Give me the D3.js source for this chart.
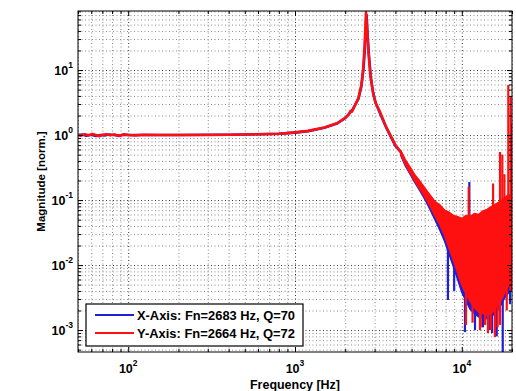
<!DOCTYPE html>
<html>
<head>
<meta charset="utf-8">
<script src="https://cdn.jsdelivr.net/npm/d3@7/dist/d3.min.js"></script>
<style>
  body { margin: 0; background: #fff; }
  svg { display: block; font-family: "Liberation Sans", Arial, sans-serif; font-weight: bold; }
  .grid line { stroke-dasharray: 1,2.5; }
  .grid path { display: none; }
  .ticks path { display: none; }
  .ticks line { stroke: #000; }
</style>
</head>
<body>
<div id="chart"></div>
<script>
// axis ranges and tick decades
const xDomain = [50, 20000];
const yDomain = [4.6e-4, 81];
const xDecades = [2, 3, 4];
const yDecades = [-3, -2, -1, 0, 1];

// X-Axis measurement (blue), smooth part up to ~4.3 kHz
const xFreq = [50, 53, 56, 60, 64, 68, 72, 77, 82, 88, 95, 105, 120, 150, 200, 300, 400, 500, 600, 700,
  800, 900, 1000, 1200, 1500, 1800, 2000, 2200, 2400, 2500, 2580, 2630, 2665, 2683, 2700, 2730, 2780, 2850, 2950, 3050,
  3200, 3500, 4000, 4300];
const xMag = [1.00, 1.02, 0.98, 1.01, 0.97, 1.00, 0.99, 1.02, 1.00, 0.98, 1.01, 1.00, 1.00, 1.00, 1.00, 1.01, 1.01, 1.02, 1.03, 1.04,
  1.05, 1.07, 1.09, 1.15, 1.30, 1.52, 1.82, 2.40, 3.6, 5.6, 11, 24, 52, 70, 55, 32, 16, 7.5, 4.3, 3.1,
  2.3, 1.35, 0.68, 0.55];

// Y-Axis measurement (red), smooth part
const yFreq = [50, 52, 55, 58, 61, 64, 67, 70, 74, 78, 83, 88, 94, 100, 110, 125, 150, 200, 300, 400,
  500, 600, 700, 800, 900, 1000, 1200, 1500, 1800, 2000, 2100, 2150, 2200, 2400, 2500, 2560, 2610, 2645, 2664, 2680,
  2710, 2760, 2830, 2930, 3030, 3200, 3500, 4000, 4300];
const yMag = [1.01, 0.98, 1.03, 0.99, 1.04, 1.00, 0.96, 1.01, 1.03, 0.99, 1.02, 0.97, 1.03, 1.00, 0.99, 1.01, 1.00, 1.00, 1.00, 1.01,
  1.02, 1.03, 1.04, 1.05, 1.07, 1.10, 1.16, 1.31, 1.53, 1.85, 2.05, 2.35, 2.30, 3.7, 5.9, 10, 22, 48, 78, 62,
  38, 18, 8.5, 4.6, 3.2, 2.4, 1.38, 0.70, 0.55];

// noisy high-frequency part, read as upper / lower envelopes
const noiseFreq = [4300, 4600, 4900, 5200, 5600, 6000, 6450, 6900, 7400, 7900, 8400, 8900, 9400, 10000,
  10600, 11200, 11900, 12600, 13400, 14200, 15000, 15800, 16600, 17400, 18200, 19000, 20000];
const blueUpper = [0.57, 0.40, 0.31, 0.24, 0.19, 0.148, 0.115, 0.092, 0.08, 0.068, 0.062, 0.056, 0.054, 0.05,
  0.056, 0.054, 0.06, 0.058, 0.066, 0.07, 0.076, 0.082, 0.088, 0.095, 0.105, 0.11, 0.11];
const blueLower = [0.49, 0.33, 0.25, 0.19, 0.14, 0.103, 0.072, 0.05, 0.034, 0.023, 0.0145, 0.0095, 0.0062, 0.0038,
  0.0028, 0.0021, 0.0018, 0.0016, 0.0015, 0.0015, 0.0016, 0.0018, 0.0021, 0.0026, 0.0032, 0.0037, 0.0042];
const redUpper = [0.58, 0.41, 0.32, 0.25, 0.196, 0.153, 0.12, 0.095, 0.084, 0.070, 0.065, 0.058, 0.056, 0.052,
  0.058, 0.056, 0.062, 0.060, 0.068, 0.072, 0.079, 0.085, 0.092, 0.10, 0.11, 0.12, 0.12];
const redLower = [0.50, 0.345, 0.26, 0.20, 0.148, 0.111, 0.081, 0.057, 0.041, 0.028, 0.018, 0.0119, 0.0078, 0.0049,
  0.0036, 0.0028, 0.0022, 0.0019, 0.0018, 0.0017, 0.0018, 0.0021, 0.0025, 0.003, 0.0039, 0.0048, 0.0055];

// single spikes sticking out of the envelopes
const blueSpikeFreq = [8260, 9000, 10450, 11100, 12000, 13400, 14760, 15200, 16200, 17600, 19450];
const blueSpikeLo = [0.0029, 0.004, 0.00093, 0.004, 0.001, 0.0011, 0.001, 0.0009, 0.0008, 0.00046, 0.0025];
const blueSpikeHi = [0.03, 0.02, 0.004, 0.19, 0.003, 0.003, 0.003, 0.003, 0.003, 0.005, 0.01];
const redSpikeFreq = [10600, 11000, 11600, 12850, 13000, 13800, 14350, 14900, 15400, 15800, 16400, 16950,
  17500, 18000, 18600, 19000, 19600, 19950];
const redSpikeLo = [0.0012, 0.01, 0.0013, 0.001, 0.0011, 0.0012, 0.0009, 0.001, 0.01, 0.00078, 0.0011, 0.0012,
  0.01, 0.01, 0.002, 0.01, 0.004, 0.005];
const redSpikeHi = [0.01, 0.16, 0.01, 0.005, 0.005, 0.005, 0.005, 0.005, 0.18, 0.005, 0.005, 0.55,
  0.5, 0.25, 0.01, 5.9, 4.0, 1.5];

const legendLabels = ["X-Axis: Fn=2683 Hz, Q=70", "Y-Axis: Fn=2664 Hz, Q=72"];

const blue = "#1f1fd8", red = "#ff1010";
const width = 516, height = 391;
const margin = { top: 11, right: 4, bottom: 39, left: 78 };
const innerW = width - margin.left - margin.right;
const innerH = height - margin.top - margin.bottom;

const svg = d3.select("#chart").append("svg")
  .attr("width", width)
  .attr("height", height);

const g = svg.append("g")
  .attr("transform", "translate(" + margin.left + "," + margin.top + ")");

const x = d3.scaleLog().domain(xDomain).range([0, innerW]);
const y = d3.scaleLog().domain(yDomain).range([innerH, 0]);

// major / minor tick values
function minors(lo, hi) {
  const out = [];
  for (let e = Math.floor(Math.log10(lo)); e <= Math.ceil(Math.log10(hi)); e++) {
    for (let m = 2; m < 10; m++) {
      const v = m * Math.pow(10, e);
      if (v >= lo * 0.999 && v <= hi * 1.001) out.push(v);
    }
  }
  return out;
}
const xMajor = xDecades.map(d => Math.pow(10, d));
const yMajor = yDecades.map(d => Math.pow(10, d));
const xMinor = minors(xDomain[0], xDomain[1]);
const yMinor = minors(yDomain[0], yDomain[1]);

// GRID
g.append("g").attr("class", "grid").attr("transform", "translate(0," + innerH + ")")
  .call(d3.axisBottom(x).tickValues(xMinor).tickSize(-innerH).tickFormat(""))
  .selectAll("line").attr("stroke", "#8a8a8a");
g.append("g").attr("class", "grid")
  .call(d3.axisLeft(y).tickValues(yMinor).tickSize(-innerW).tickFormat(""))
  .selectAll("line").attr("stroke", "#8a8a8a");
g.append("g").attr("class", "grid").attr("transform", "translate(0," + innerH + ")")
  .call(d3.axisBottom(x).tickValues(xMajor).tickSize(-innerH).tickFormat(""))
  .selectAll("line").attr("stroke", "#333");
g.append("g").attr("class", "grid")
  .call(d3.axisLeft(y).tickValues(yMajor).tickSize(-innerW).tickFormat(""))
  .selectAll("line").attr("stroke", "#333");

// DATA
g.append("clipPath").attr("id", "plot-clip")
  .append("rect").attr("width", innerW).attr("height", innerH);
const plot = g.append("g").attr("clip-path", "url(#plot-clip)");

const line = d3.line().x(d => x(d[0])).y(d => y(d[1]));
const area = d3.area().x(d => x(d[0])).y0(d => y(d[2])).y1(d => y(d[1]));

function drawSeries(freq, mag, upper, lower, sFreq, sLo, sHi, color) {
  plot.append("path")
    .datum(noiseFreq.map((f, i) => [f, upper[i], lower[i]]))
    .attr("d", area)
    .attr("fill", color)
    .attr("stroke", color)
    .attr("stroke-width", 1.5)
    .attr("stroke-linejoin", "bevel");
  plot.append("path")
    .datum(freq.map((f, i) => [f, mag[i]]))
    .attr("d", line)
    .attr("fill", "none")
    .attr("stroke", color)
    .attr("stroke-width", 2.6)
    .attr("stroke-linejoin", "round");
  plot.selectAll(null)
    .data(sFreq.map((f, i) => [f, sLo[i], sHi[i]]))
    .enter().append("line")
    .attr("x1", d => x(d[0])).attr("x2", d => x(d[0]))
    .attr("y1", d => y(d[1])).attr("y2", d => y(d[2]))
    .attr("stroke", color)
    .attr("stroke-width", 2.2);
}
drawSeries(xFreq, xMag, blueUpper, blueLower, blueSpikeFreq, blueSpikeLo, blueSpikeHi, blue);
drawSeries(yFreq, yMag, redUpper, redLower, redSpikeFreq, redSpikeLo, redSpikeHi, red);

// TICKS (inside, all four sides)
const tickSets = [
  [d3.axisBottom(x), xMajor, 5, "translate(0," + innerH + ")"],
  [d3.axisBottom(x), xMinor, 3, "translate(0," + innerH + ")"],
  [d3.axisTop(x), xMajor, 5, null],
  [d3.axisTop(x), xMinor, 3, null],
  [d3.axisLeft(y), yMajor, 5, null],
  [d3.axisLeft(y), yMinor, 3, null],
  [d3.axisRight(y), yMajor, 5, "translate(" + innerW + ",0)"],
  [d3.axisRight(y), yMinor, 3, "translate(" + innerW + ",0)"]
];
tickSets.forEach(t => {
  const a = g.append("g").attr("class", "ticks");
  if (t[3]) a.attr("transform", t[3]);
  a.call(t[0].tickValues(t[1]).tickSize(-t[2]).tickFormat(""));
});

// frame
g.append("rect")
  .attr("width", innerW).attr("height", innerH)
  .attr("fill", "none").attr("stroke", "#000").attr("stroke-width", 1);

// TICK LABELS (10 with superscript exponent)
const xl = g.selectAll(".xlab").data(xDecades).enter().append("text")
  .attr("class", "xlab")
  .attr("x", d => x(Math.pow(10, d)))
  .attr("y", innerH + 21)
  .attr("text-anchor", "middle")
  .attr("font-size", 12.5);
xl.append("tspan").text("10");
xl.append("tspan").attr("dy", -7).attr("font-size", 8.5).text(d => d);

const yl = g.selectAll(".ylab").data(yDecades).enter().append("text")
  .attr("class", "ylab")
  .attr("x", -5)
  .attr("y", d => y(Math.pow(10, d)) + 5)
  .attr("text-anchor", "end")
  .attr("font-size", 12.5);
yl.append("tspan").text("10");
yl.append("tspan").attr("dy", -7).attr("font-size", 8.5).text(d => d);

// AXIS TITLES
g.append("text")
  .attr("x", x(1000))
  .attr("y", innerH + 37)
  .attr("text-anchor", "middle")
  .attr("font-size", 12)
  .attr("textLength", 90)
  .attr("lengthAdjust", "spacingAndGlyphs")
  .text("Frequency [Hz]");
g.append("text")
  .attr("transform", "translate(-33," + (innerH / 2) + ") rotate(-90)")
  .attr("text-anchor", "middle")
  .attr("font-size", 11.5)
  .text("Magnitude [norm.]");

// LEGEND
const legend = g.append("g").attr("transform", "translate(8,293)");
legend.append("rect")
  .attr("width", 217).attr("height", 42)
  .attr("fill", "#fff").attr("stroke", "#000").attr("stroke-width", 1.2);
const items = legend.selectAll(".item").data(legendLabels).enter().append("g")
  .attr("transform", (d, i) => "translate(0," + (11 + i * 18) + ")");
items.append("line")
  .attr("x1", 9).attr("x2", 48)
  .attr("stroke", (d, i) => i === 0 ? blue : red)
  .attr("stroke-width", 2);
items.append("text")
  .attr("x", 51).attr("y", 4.5)
  .attr("font-size", 12.5)
  .attr("textLength", 158)
  .attr("lengthAdjust", "spacingAndGlyphs")
  .text(d => d);
</script>
</body>
</html>
